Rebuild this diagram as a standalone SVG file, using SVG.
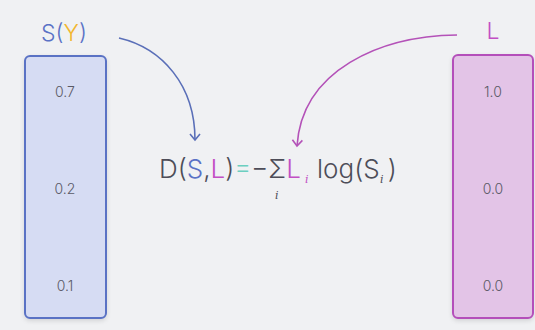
<svg xmlns="http://www.w3.org/2000/svg" width="535" height="330" viewBox="0 0 535 330">
<style>
.val{font-family:Inter,"Noto Sans",sans-serif;font-size:14px;font-weight:300;fill:#5a5a66;text-anchor:middle}
.lbl{font-family:Inter,"Noto Sans",sans-serif;font-size:23px;font-weight:300;text-anchor:middle}
.eq{font-family:Inter,"Noto Sans",sans-serif;font-size:26px;font-weight:300;fill:#4d4d58}
.sub{font-family:"DejaVu Serif",serif;font-style:italic;font-size:11px}
.b{fill:#5a72c6}.m{fill:#c24fc4}.y{fill:#f2b730}.t{fill:#6ccfc0}
</style>
<defs>
<marker id="ab" viewBox="0 0 12 12" refX="10" refY="6" markerWidth="12" markerHeight="12" markerUnits="userSpaceOnUse" orient="auto">
<path d="M4,1 L10,6 L4,11" fill="none" stroke="#5a6fb8" stroke-width="1.6"/>
</marker>
<marker id="am" viewBox="0 0 12 12" refX="10" refY="6" markerWidth="12" markerHeight="12" markerUnits="userSpaceOnUse" orient="auto">
<path d="M4,1 L10,6 L4,11" fill="none" stroke="#b452b8" stroke-width="1.6"/>
</marker>
<filter id="sh" x="-20%" y="-10%" width="140%" height="120%"><feDropShadow dx="0" dy="2" stdDeviation="2" flood-color="#000" flood-opacity="0.12"/></filter>
</defs>
<rect width="535" height="330" fill="#f0f1f3"/>
<g id="connectors" fill="none" stroke-width="1.6">
<path d="M119,38 C162,48 195,85 195,140" stroke="#5a6fb8" marker-end="url(#ab)"/>
<path d="M457,35 C380,36 302,70 297,146" stroke="#b452b8" marker-end="url(#am)"/>
</g>
<g id="sy">
<text class="lbl" x="64" y="41"><tspan class="b">S(</tspan><tspan class="y">Y</tspan><tspan class="b">)</tspan></text>
<rect x="25" y="56" width="81" height="262" rx="5" fill="#d6dcf3" stroke="#5a72c4" stroke-width="2" filter="url(#sh)"/>
<text class="val" x="65" y="97">0.7</text>
<text class="val" x="65" y="194">0.2</text>
<text class="val" x="65" y="291">0.1</text>
</g>
<g id="l">
<text class="lbl m" x="493" y="39">L</text>
<rect x="453" y="55" width="80" height="263" rx="5" fill="#e3c4e7" stroke="#b44fba" stroke-width="2" filter="url(#sh)"/>
<text class="val" x="493" y="97">1.0</text>
<text class="val" x="493" y="194">0.0</text>
<text class="val" x="493" y="291">0.0</text>
</g>
<g id="equation">
<text class="eq" x="159" y="178">D<tspan>(</tspan><tspan class="b">S</tspan>,<tspan class="m">L</tspan>)<tspan class="t">=</tspan>−Σ<tspan class="m">L</tspan></text>
<text class="sub m" x="305" y="183">i</text>
<text class="eq" x="317" y="178">log(S<tspan dx="8">)</tspan></text>
<text class="sub" x="380" y="183" fill="#4d4d58">i</text>
<text class="sub" x="275" y="199" fill="#4d4d58">i</text>
</g>
</svg>
